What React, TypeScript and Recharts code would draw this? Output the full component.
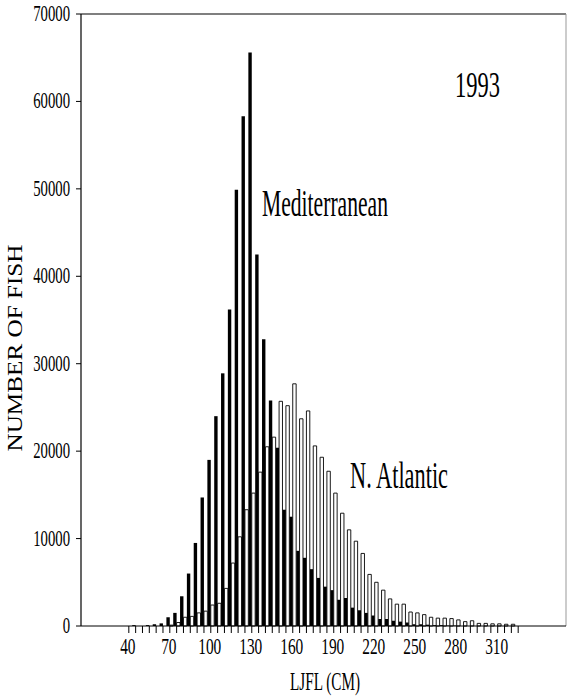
import React from 'react';
import { BarChart, Bar, XAxis, YAxis, ReferenceLine, Customized } from 'recharts';

// ── Data (LJFL class centre in cm, number of fish) ─────────────
const lengthClasses = [
  45, 50, 55, 60, 65, 70, 75, 80, 85, 90, 95, 100, 105, 110, 115, 120, 125, 130,
  135, 140, 145, 150, 155, 160, 165, 170, 175, 180, 185, 190, 195, 200, 205, 210,
  215, 220, 225, 230, 235, 240, 245, 250, 255, 260, 265, 270, 275, 280, 285, 290,
  295, 300, 305, 310, 315, 320,
];

const mediterranean = [
  100, 0, 100, 200, 300, 1000, 1500, 3400, 6000, 9500, 14700, 19000, 24000, 28900, 36200, 49900, 58300, 65600,
  42500, 32800, 25800, 20400, 13300, 12500, 8600, 7800, 6500, 5500, 4500, 4100, 3000, 3200, 2100, 1800,
  1500, 1200, 800, 800, 600, 500, 400, 200, 200, 150, 100, 100, 50, 50, 0, 0,
  0, 0, 0, 0, 0, 0,
];

const northAtlantic = [
  0, 0, 0, 0, 0, 100, 400, 1000, 1100, 1500, 1700, 2400, 2600, 4300, 7200, 10200, 13300, 15200,
  17600, 20500, 21600, 25700, 25200, 27700, 23700, 24600, 20600, 19300, 17700, 15200, 12900, 11000, 9700, 8300,
  5900, 5000, 4100, 3100, 2500, 2500, 1600, 1500, 1300, 1000, 900, 900, 850, 700, 500, 600,
  300, 300, 250, 250, 200, 200,
];

const xMinorTicks = [
  40, 45, 50, 55, 60, 65, 70, 75, 80, 85, 90, 95, 100, 105, 110, 115, 120, 125, 130,
  135, 140, 145, 150, 155, 160, 165, 170, 175, 180, 185, 190, 195, 200, 205, 210,
  215, 220, 225, 230, 235, 240, 245, 250, 255, 260, 265, 270, 275, 280, 285, 290,
  295, 300, 305, 310, 315, 320, 325,
];
const xLabelTicks = [40, 70, 100, 130, 160, 190, 220, 250, 280, 310];
const yTicks = [0, 10000, 20000, 30000, 40000, 50000, 60000, 70000];

const data = lengthClasses.map((x, i) => ({
  x,
  med: mediterranean[i],
  atl: northAtlantic[i],
}));

const FONT = '"Liberation Serif", "DejaVu Serif", serif';

// narrow serif look of the original plot
const XTick = (props: any) => {
  const { x, y, payload } = props;
  if (!xLabelTicks.includes(payload.value)) return <g />;
  return (
    <g transform={`translate(${x - 1},${y + 21}) scale(0.64,1)`}>
      <text textAnchor="middle" fontFamily={FONT} fontSize={24} fill="#000">
        {payload.value}
      </text>
    </g>
  );
};

const YTick = (props: any) => {
  const { x, y, payload } = props;
  return (
    <g transform={`translate(${x},${y + 7}) scale(0.64,1)`}>
      <text textAnchor="end" fontFamily={FONT} fontSize={23} fill="#000">
        {payload.value}
      </text>
    </g>
  );
};

const Annotations = () => (
  <g fontFamily={FONT} fill="#000">
    <text x={455} y={97} fontSize={35} textLength={45} lengthAdjust="spacingAndGlyphs">1993</text>
    <text x={262} y={216} fontSize={37} textLength={126} lengthAdjust="spacingAndGlyphs">Mediterranean</text>
    <text x={350} y={488} fontSize={37} textLength={98} lengthAdjust="spacingAndGlyphs">N. Atlantic</text>
    <text x={290} y={690} fontSize={25} textLength={70} lengthAdjust="spacingAndGlyphs">LJFL (CM)</text>
    <text
      x={0}
      y={0}
      fontSize={21}
      textLength={207}
      lengthAdjust="spacingAndGlyphs"
      textAnchor="middle"
      transform="translate(22,348) rotate(-90)"
    >
      NUMBER OF FISH
    </text>
  </g>
);

export default function App() {
  return (
    <div style={{ position: 'absolute', left: 0, top: 0, background: '#fff' }}>
      <BarChart
        width={568}
        height={696}
        data={data}
        margin={{ top: 14, right: 2, bottom: 0, left: 0 }}
        barGap={0}
      >
        <XAxis
          dataKey="x"
          type="number"
          domain={[5, 360]}
          ticks={xMinorTicks}
          interval={0}
          tickSize={7}
          tickMargin={0}
          tick={<XTick />}
          height={70}
          axisLine={{ stroke: '#000', strokeWidth: 1 }}
          tickLine={{ stroke: '#000', strokeWidth: 1 }}
        />
        <YAxis
          type="number"
          domain={[0, 70000]}
          ticks={yTicks}
          interval={0}
          width={81}
          tickSize={5}
          tickMargin={6}
          tick={<YTick />}
          axisLine={{ stroke: '#000', strokeWidth: 1.2 }}
          tickLine={{ stroke: '#000', strokeWidth: 1 }}
        />
        <ReferenceLine y={70000} stroke="#000" strokeWidth={1.2} />
        <ReferenceLine x={360} stroke="#999" strokeWidth={1} />
        <Bar dataKey="med" fill="#000" barSize={3.4} isAnimationActive={false} />
        <Bar
          dataKey="atl"
          fill="#fff"
          stroke="#000"
          strokeWidth={0.9}
          barSize={3.4}
          isAnimationActive={false}
        />
        <Customized component={Annotations} />
      </BarChart>
    </div>
  );
}
